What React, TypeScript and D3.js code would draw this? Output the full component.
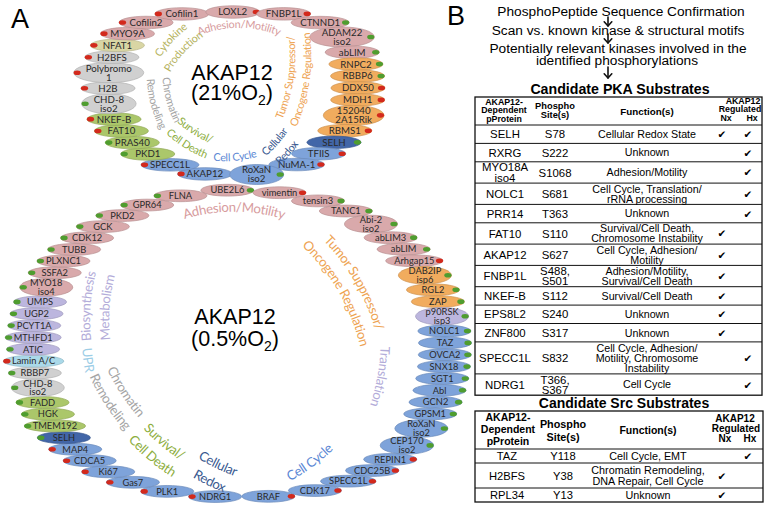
import React, { useMemo } from "react";
import * as d3 from "d3";

// ---------------- DATA ----------------
// Ring 1: AKAP12 (21% O2), clockwise starting at AKAP12
const ring21Names = ["AKAP12","SPECC1L","PKD1","PRAS40","FAT10","NKEF-B","CHD-8\niso2","H2B","Polybromo\n1","H2BFS","NFAT1","MYO9A","Cofilin2","Cofilin1","LOXL2","FNBP1L","CTNND1","ADAM22\niso2","abLIM","RNPC2","RBBP6","DDX50","MDH1","152040\n2A15Rik","RBMS1","SELH","TFIIS","NuMA-1","RoXaN\niso2"];
const ring21Groups = ["cc","cc","sv","sv","sv","sv","ch","ch","ch","ch","cy","ad","ad","ad","ad","ad","ad","ad","ad","tu","tu","tu","tu","tu","tu","rx","cc","cc","cc"];
const ring21Dots = ["r","r","g","g","r","r","g","r","r","r","r","r","r","r","r","r","g","g","g","g","g","r","r","r","r","g","r","r","g"];

// Ring 2: AKAP12 (0.5% O2), clockwise starting at UBE2L6
const ring05Names = ["UBE2L6","vimentin","tensin3","TANC1","Abi-2\niso2","abLIM3","abLIM","Arhgap15","DAB2IP\nisp6","RGL2","ZAP","p90RSK\nisp3","NOLC1","TAZ","OVCA2","SNX18","SGT1","Abl","GCN2","GPSM1","RoXaN\niso2","CEP170\niso2","REPIN1","CDC25B","SPECC1L","CDK17","BRAF","NDRG1","PLK1","Gas7","Ki67","CDCA5","MAP4","SELH","TMEM192","HGK","FADD","CHD-8\niso2","RBBP7","Lamin A/C","ATIC","MTHFD1","PCYT1A","UGP2","UMPS","MYO18\niso4","SSFA2","PLXNC1","TUBB","CDK12","GCK","PKD2","GPR64","FLNA"];
const ring05Groups = ["ad","ad","ad","ad","ad","ad","ad","ad","tu","tu","tu","tr","cc","cc","cc","cc","cc","cc","cc","cc","cc","cc","cc","cc","cc","cc","cc","cc","cc","cc","cc","cc","cc","rx","sv","sv","sv","ch","ch","up","bm","bm","bm","bm","bm","ad","ad","ad","ad","ad","ad","ad","ad","ad"];
const ring05Dots = ["g","r","g","g","g","g","g","r","g","g","g","g","g","g","g","g","g","g","g","g","g","g","r","r","r","r","r","r","r","r","r","r","r","g","g","g","g","g","g","r","g","g","g","g","g","g","g","g","g","g","g","g","g","g"];

// functional categories
const groupKeys = ["ad","cy","ch","sv","cc","rx","tu","bm","up","tr"];
const groupFill = ["#d9a9ab","#d9d6a4","#d0d0d0","#abc76a","#7ea3da","#4266a8","#f1ac5e","#bcb6de","#aad9e9","#bcb6de"];
const groupInk = ["#d79c9e","#b5b25c","#a5a5a5","#8dae3e","#5b87d4","#3a5a90","#eea352","#b3acd9","#9ccde6","#b3acd9"];

const ring21Tags = [["Adhesion/Motility"],["Cytokine","Production"],["Chromatin","Remodeling"],["Survival/","Cell Death"],["Cell Cycle"],["Cellular","Redox"],["Tumor Suppressor/","Oncogene Regulation"]];
const ring21TagGroups = ["ad","cy","ch","sv","cc","rx","tu"];
const ring05Tags = [["Adhesion/Motility"],["Tumor Suppressor/","Oncogene Regulation"],["Translation"],["Cell Cycle"],["Cellular","Redox"],["Survival/","Cell Death"],["Chromatin","Remodeling"],["UPR"],["Biosynthesis","Metabolism"]];
const ring05TagGroups = ["ad","tu","tr","cc","rx","sv","ch","up","bm"];

// Table B: candidate PKA substrates
const pkaProteins = ["SELH","RXRG","MYO18A\niso4","NOLC1","PRR14","FAT10","AKAP12","FNBP1L","NKEF-B","EPS8L2","ZNF800","SPECC1L","NDRG1"];
const pkaSites = ["S78","S222","S1068","S681","T363","S110","S627","S488,\nS501","S112","S240","S317","S832","T366,\nS367"];
const pkaFunctions = ["Cellular Redox State","Unknown","Adhesion/Motility","Cell Cycle, Translation/\nrRNA processing","Unknown","Survival/Cell Death,\nChromosome Instability","Cell Cycle, Adhesion/\nMotility","Adhesion/Motility,\nSurvival/Cell Death","Survival/Cell Death","Unknown","Unknown","Cell Cycle, Adhesion/\nMotility, Chromosome\nInstability","Cell Cycle"];
const pkaNx = [1,0,0,0,0,1,1,1,1,1,1,0,0];
const pkaHx = [1,1,1,1,1,0,0,0,0,0,0,1,1];

// Table B: candidate Src substrates
const srcProteins = ["TAZ","H2BFS","RPL34"];
const srcSites = ["Y118","Y38","Y13"];
const srcFunctions = ["Cell Cycle, EMT","Chromatin Remodeling,\nDNA Repair, Cell Cycle","Unknown"];
const srcNx = [0,1,1];
const srcHx = [1,0,0];

const flowSteps = ["PhosphoPeptide Sequence Confirmation","Scan vs. known kinase & structural motifs","Potentially relevant kinases involved in the","identified phosphorylations"];

// ---------------- LAYOUT / STYLE ----------------
const NODE_FONT = "Lato, 'Open Sans', sans-serif";
const SANS = "'Liberation Sans', Arial, sans-serif";
const DOT_R = "#d3291c";
const DOT_G = "#4f9d2f";

let _ctx: any = null;
function textWidth(s: string, fs: number, font = NODE_FONT) {
  if (!_ctx) _ctx = document.createElement("canvas").getContext("2d");
  _ctx.font = `${fs}px ${font}`;
  return _ctx.measureText(s).width;
}

type RingCfg = { cx: number; cy: number; rx: number; ry: number; nTop: number; nBot: number; t0: number; fs: number; h1: number; h2: number; minW: number; pad1: number; pad2: number };

const cfg21: RingCfg = { cx: 233, cy: 94, rx: 125, ry: 82, nTop: 3, nBot: 2, t0: (103 * Math.PI) / 180, fs: 9.7, h1: 12.5, h2: 20, minW: 54, pad1: 18, pad2: 24 };
const cfg05: RingCfg = { cx: 239, cy: 343.5, rx: 206, ry: 153.5, nTop: 2.05, nBot: 2.35, t0: (-93 * Math.PI) / 180, fs: 9.3, h1: 11.8, h2: 17.5, minW: 53, pad1: 17, pad2: 20 };

function ringPoint(c: RingCfg, t: number): [number, number] {
  const co = Math.cos(t), si = Math.sin(t);
  const e = 2 / (si < 0 ? c.nTop : c.nBot);
  return [c.cx + c.rx * Math.sign(co) * Math.pow(Math.abs(co), e), c.cy + c.ry * Math.sign(si) * Math.pow(Math.abs(si), e)];
}

function layoutRing(names: string[], groups: string[], dots: string[], c: RingCfg) {
  const nodes = names.map((nm, i) => {
    const lines = nm.split("\n");
    const tw = Math.max(...lines.map((l) => textWidth(l, c.fs)));
    const w = Math.max(c.minW, tw + (lines.length > 1 ? c.pad2 : c.pad1));
    const h = lines.length > 1 ? c.h2 : c.h1;
    return { name: nm, lines, group: groups[i], dot: dots[i], w, h, x: 0, y: 0 };
  });
  const N = nodes.length;
  const nextT = (tp: number, a: any, b: any, k: number) => {
    const P = ringPoint(c, tp);
    const Wm = (a.w + b.w) / 2, Hm = (a.h + b.h) / 2;
    const dist = (t: number) => { const Q = ringPoint(c, t); return Math.hypot((Q[0] - P[0]) / Wm, (Q[1] - P[1]) / Hm); };
    let lo = tp, hi = tp + 0.01;
    while (dist(hi) < k && hi < tp + 3) { lo = hi; hi += 0.01; }
    for (let j = 0; j < 28; j++) { const m = (lo + hi) / 2; if (dist(m) < k) lo = m; else hi = m; }
    return hi;
  };
  const run = (k: number) => {
    const ts = [c.t0];
    for (let i = 1; i < N; i++) ts.push(nextT(ts[i - 1], nodes[i - 1], nodes[i], k));
    const tc = nextT(ts[N - 1], nodes[N - 1], nodes[0], k);
    return { ts, g: tc - (c.t0 + 2 * Math.PI) };
  };
  let lo = 0.3, hi = 1.6;
  for (let j = 0; j < 30; j++) { const m = (lo + hi) / 2; if (run(m).g < 0) lo = m; else hi = m; }
  const { ts } = run((lo + hi) / 2);
  ts.forEach((t, i) => { const [x, y] = ringPoint(c, t); nodes[i].x = x; nodes[i].y = y; });
  return nodes;
}

// label placement relative to ring centre: [dx, dy, rotation, direction(1=cw,-1=ccw), curvature radius]
const tagPlace21 = [[6, -70, 0, 1, 110], [-63, -55, -47, 1, 120], [-63, 6, 75, -1, 110], [-38, 37, 32, -1, 110], [2, 63, -5, -1, 120], [42, 48, -48, -1, 110], [57, -16, -82, -1, 160]];
const tagPlace05 = [[-5, -136.5, 0, 1, 170], [120, -63.5, 60, 1, 220], [143, 33.5, 100, 1, 200], [71, 119.5, -36, -1, 200], [-21, 120.5, 26, -1, 200], [-75, 98.5, 40, -1, 200], [-114, 48.5, 57, -1, 200], [-151, 16.5, 83, -1, 200], [-153, -37.5, -86, 1, 200]];

const fillScale = d3.scaleOrdinal<string, string>().domain(groupKeys).range(groupFill);
const inkScale = d3.scaleOrdinal<string, string>().domain(groupKeys).range(groupInk);

function Ring({ id, names, groups, dots, c, tags, tagGroups, place, tagFs, tagLh, tagLs, title, sub }: any) {
  const nodes = useMemo(() => layoutRing(names, groups, dots, c), []);
  const line = d3.line();
  return (
    <g>
      {nodes.map((n: any, i: number) => {
        const left = n.x < c.cx - 20;
        const fill = fillScale(n.group);
        const stroke = d3.color(fill)!.darker(0.45).formatHex();
        const dx = left ? -(n.w / 2 - 3.5) : n.w / 2 - 3.5;
        const lh = c.fs * 0.92;
        return (
          <g key={i}>
            <ellipse cx={n.x} cy={n.y} rx={n.w / 2} ry={n.h / 2} fill={fill} stroke={stroke} strokeWidth={0.7} />
            <ellipse cx={n.x + dx} cy={n.y} rx={3.6} ry={2.3} fill={n.dot === "r" ? DOT_R : DOT_G} />
            {n.lines.map((l: string, j: number) => (
              <text key={j} x={n.x} y={n.y + (j - (n.lines.length - 1) / 2) * lh + c.fs * 0.35} textAnchor="middle" fontSize={c.fs} fontFamily={NODE_FONT} fill="#2a2a2a">{l}</text>
            ))}
          </g>
        );
      })}
      {tags.map((lines: string[], i: number) => {
        const [dx, dy, rot, s, R] = place[i];
        const color = inkScale(tagGroups[i]);
        return (
          <g key={"t" + i} transform={`translate(${c.cx + dx},${c.cy + dy}) rotate(${rot})`}>
            <defs>
              {lines.map((_, j) => {
                const y0 = j * tagLh + 0.35 * tagFs;
                const rho = R - s * y0;
                const L = Math.min(280, 1.4 * Math.PI * rho);
                const pts = d3.range(0, 61).map((k) => {
                  const a = ((k / 60 - 0.5) * L) / rho;
                  return [rho * Math.sin(a), s * R - s * rho * Math.cos(a)] as [number, number];
                });
                return <path key={j} id={`${id}-${i}-${j}`} d={line(pts) || ""} fill="none" />;
              })}
            </defs>
            {lines.map((l, j) => (
              <text key={j} fontSize={tagFs} fontFamily={NODE_FONT} fill={color} letterSpacing={tagLs} textAnchor="middle">
                <textPath href={`#${id}-${i}-${j}`} startOffset="50%">{l}</textPath>
              </text>
            ))}
          </g>
        );
      })}
      <text x={c.cx + title[0]} y={c.cy + title[1]} textAnchor="middle" fontSize={21.5} fontFamily={SANS}>AKAP12</text>
      <text x={c.cx + title[0]} y={c.cy + title[2]} textAnchor="middle" fontSize={21.5} fontFamily={SANS}>
        {sub}<tspan fontSize={14} dy={5}>2</tspan><tspan dy={-5}>)</tspan>
      </text>
    </g>
  );
}

function Table({ x0, x1, yTop, yHead, proteins, sites, funcs, nx, hx, cols, checks, heights, header, fsBody, fsFunc, lhBody }: any) {
  const cells = [proteins, sites, funcs];
  const nl = proteins.map((_: any, r: number) => Math.max(...cells.map((col: string[]) => col[r].split("\n").length)));
  const hs = nl.map((n: number) => heights[n - 1]);
  const ys = [yHead, ...d3.cumsum(hs).map((v: number) => yHead + v)];
  const yBot = ys[ys.length - 1];
  return (
    <g fontFamily={SANS}>
      <rect x={x0} y={yTop} width={x1 - x0} height={yBot - yTop} fill="none" stroke="#111" strokeWidth={1.3} />
      {ys.slice(0, -1).map((y: number, i: number) => (
        <line key={i} x1={x0} x2={x1} y1={y} y2={y} stroke="#111" strokeWidth={1} />
      ))}
      {header.map((h: any, i: number) => (
        <text key={"h" + i} x={h[0]} y={yTop + h[1]} textAnchor="middle" fontWeight="bold" fontSize={h[2]}>{h[3]}</text>
      ))}
      {proteins.map((_: any, r: number) => {
        const mid = (ys[r] + ys[r + 1]) / 2;
        return (
          <g key={r}>
            {cells.map((col: string[], ci: number) => {
              const lines = col[r].split("\n");
              const fs = ci === 2 ? fsFunc : fsBody;
              return lines.map((l, j) => (
                <text key={ci + "-" + j} x={cols[ci]} y={mid + (j - (lines.length - 1) / 2) * lhBody + fs * 0.36} textAnchor="middle" fontSize={fs}>{l}</text>
              ));
            })}
            {nx[r] ? <text x={checks[0]} y={mid + 4} textAnchor="middle" fontSize={10.5} fontFamily="'DejaVu Sans', sans-serif">✔</text> : null}
            {hx[r] ? <text x={checks[1]} y={mid + 4} textAnchor="middle" fontSize={10.5} fontFamily="'DejaVu Sans', sans-serif">✔</text> : null}
          </g>
        );
      })}
    </g>
  );
}

// header cells: [x, baseline offset from table top, font size, text]
const pkaHeader = [[504, 7.5, 8.8, "AKAP12-"], [504, 16, 8.8, "Dependent"], [504, 24.5, 8.8, "pProtein"], [555, 11.5, 9.3, "Phospho"], [555, 21, 9.3, "Site(s)"], [647, 17.5, 9.8, "Function(s)"], [743, 6.5, 8.8, "AKAP12"], [740, 15.2, 8.8, "Regulated"], [726, 23.8, 8.8, "Nx"], [752, 23.8, 8.8, "Hx"]];
const srcHeader = [[508, 10, 10.5, "AKAP12-"], [508, 22, 10.5, "Dependent"], [508, 34, 10.5, "pProtein"], [563, 16.5, 10.8, "Phospho"], [563, 29.5, 10.8, "Site(s)"], [648, 23, 10.5, "Function(s)"], [735, 10.5, 10, "AKAP12"], [736, 20.5, 10, "Regulated"], [725, 30.5, 10, "Nx"], [750, 30.5, 10, "Hx"]];

function Arrow({ x, y0, y1 }: any) {
  return (
    <g stroke="#111" strokeWidth={1.6} fill="none" strokeLinecap="round" strokeLinejoin="round">
      <path d={`M${x},${y0}L${x},${y1}`} />
      <path d={`M${x - 3.8},${y1 - 4.2}L${x},${y1}L${x + 3.8},${y1 - 4.2}`} />
    </g>
  );
}

export default function App() {
  return (
    <svg width={765} height={506} viewBox="0 0 765 506" style={{ position: "absolute", left: 0, top: 0, background: "#fff" }}>
      <rect width={765} height={506} fill="#fff" />
      <text x={11} y={28} fontSize={27} fontFamily={SANS}>A</text>
      <text x={447} y={25} fontSize={27} fontFamily={SANS}>B</text>

      <Ring id="r21" names={ring21Names} groups={ring21Groups} dots={ring21Dots} c={cfg21} tags={ring21Tags} tagGroups={ring21TagGroups} place={tagPlace21} tagFs={10.8} tagLh={16} tagLs={-0.25} title={[-1, -14, 6]} sub="(21%O" />
      <Ring id="r05" names={ring05Names} groups={ring05Groups} dots={ring05Dots} c={cfg05} tags={ring05Tags} tagGroups={ring05TagGroups} place={tagPlace05} tagFs={13.2} tagLh={19} tagLs={-0.3} title={[-4, -20, 2]} sub="(0.5%O" />

      <g fontFamily={SANS} fontSize={13.7} textAnchor="middle">
        <text x={621} y={16}>{flowSteps[0]}</text>
        <text x={618} y={34.5}>{flowSteps[1]}</text>
        <text x={618} y={52.5}>{flowSteps[2]}</text>
        <text x={617} y={64.5}>{flowSteps[3]}</text>
        <text x={620} y={94} fontWeight="bold" fontSize={14.2}>Candidate PKA Substrates</text>
        <text x={624} y={408} fontWeight="bold" fontSize={14}>Candidate Src Substrates</text>
      </g>
      <Arrow x={608} y0={17} y1={26} />
      <Arrow x={608} y0={34} y1={43} />
      <Arrow x={608} y0={67} y1={78} />

      <Table x0={475} x1={762} yTop={97} yHead={125} proteins={pkaProteins} sites={pkaSites} funcs={pkaFunctions} nx={pkaNx} hx={pkaHx} cols={[505, 555, 647]} checks={[722, 748]} heights={[18.4, 21.3, 32]} header={pkaHeader} fsBody={11.4} fsFunc={10.7} lhBody={10.2} />
      <Table x0={475} x1={763} yTop={411} yHead={449} proteins={srcProteins} sites={srcSites} funcs={srcFunctions} nx={srcNx} hx={srcHx} cols={[507, 563, 648]} checks={[722, 748]} heights={[14, 25, 32]} header={srcHeader} fsBody={11.2} fsFunc={10.8} lhBody={10.8} />
    </svg>
  );
}
